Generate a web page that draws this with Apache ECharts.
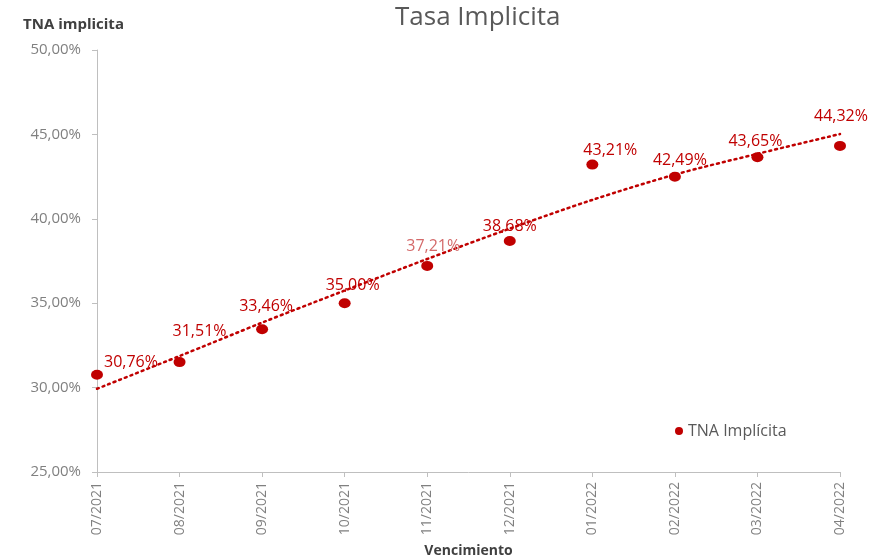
<!DOCTYPE html>
<html>
<head>
<meta charset="utf-8">
<script src="https://cdn.jsdelivr.net/npm/echarts@6/dist/echarts.min.js"></script>
<style>html,body{margin:0;padding:0;background:#fff;}#c{width:874px;height:559px;}</style>
</head>
<body>
<div id="c"></div>
<script>
var categories = ['07/2021','08/2021','09/2021','10/2021','11/2021','12/2021','01/2022','02/2022','03/2022','04/2022'];
var tnaValues = [30.76, 31.51, 33.46, 35.00, 37.21, 38.68, 43.21, 42.49, 43.65, 44.32];
var trendValues = [29.93, 31.87, 33.85, 35.75, 37.62, 39.42, 41.12, 42.62, 43.85, 45.02];
var yTicks = [25, 30, 35, 40, 45, 50];
var labelOffsets = [[34,6],[20,-13],[4,-5],[8,0],[6,-1],[0,3],[18,4],[5,2],[-2,2],[1,-11]];

function pct(v){ return v.toFixed(2).replace('.', ',') + '%'; }

var red = '#C00000';
var font = 'Open Sans';

var scatterData = tnaValues.map(function(v, i){
  var item = { value: v, label: { offset: labelOffsets[i] } };
  if (i === 4) item.label.color = '#D46A6A';
  return item;
});

var chart = echarts.init(document.getElementById('c'));
chart.setOption({
  animation: false,
  backgroundColor: '#fff',
  title: [
    { text: 'Tasa Implicita', left: 390, top: 0,
      textStyle: { fontFamily: font, fontSize: 26, fontWeight: 'normal', color: '#595959' } },
    { text: 'TNA implicita', left: 18, top: 12,
      textStyle: { fontFamily: font, fontSize: 15, fontWeight: 'bold', color: '#404040' } }
  ],
  legend: {
    data: [{ name: 'TNA Implícita', icon: 'circle' }],
    left: 670, top: 418, itemWidth: 8, itemHeight: 8, itemGap: 6,
    textStyle: { fontFamily: font, fontSize: 16, color: '#595959' }
  },
  grid: { left: 97, right: 34, top: 50, bottom: 87, containLabel: false, outerBoundsMode: 'none' },
  xAxis: {
    type: 'category',
    data: categories,
    boundaryGap: false,
    name: 'Vencimiento',
    nameLocation: 'middle',
    nameGap: 72,
    nameTextStyle: { fontFamily: font, fontSize: 14, fontWeight: 'bold', color: '#404040' },
    axisLine: { lineStyle: { color: '#BFBFBF', width: 1 } },
    axisTick: { show: true, length: 5, lineStyle: { color: '#BFBFBF' } },
    axisLabel: { rotate: 90, margin: 10, fontFamily: font, fontSize: 14, color: '#808080' },
    splitLine: { show: false }
  },
  yAxis: {
    type: 'value',
    min: 25, max: 50, interval: 5,
    axisLine: { show: true, lineStyle: { color: '#BFBFBF', width: 1 } },
    axisTick: { show: true, length: 5, lineStyle: { color: '#BFBFBF' } },
    axisLabel: { margin: 16, fontFamily: font, fontSize: 15, color: '#808080',
      formatter: function(v){ return yTicks.indexOf(v) >= 0 ? pct(v) : ''; } },
    splitLine: { show: false }
  },
  series: [
    {
      name: 'Tendencia',
      type: 'line',
      data: trendValues,
      smooth: 0.3,
      symbol: 'none',
      silent: true,
      lineStyle: { color: red, width: 2.5, type: [2, 4], cap: 'round' },
      z: 2
    },
    {
      name: 'TNA Implícita',
      type: 'scatter',
      data: scatterData,
      symbol: 'circle',
      symbolSize: [12, 10],
      itemStyle: { color: red, opacity: 1 },
      label: {
        show: true, position: 'top', distance: 5,
        fontFamily: font, fontSize: 16, color: red,
        formatter: function(p){ return pct(p.value); }
      },
      z: 3
    }
  ]
});
</script>
</body>
</html>
